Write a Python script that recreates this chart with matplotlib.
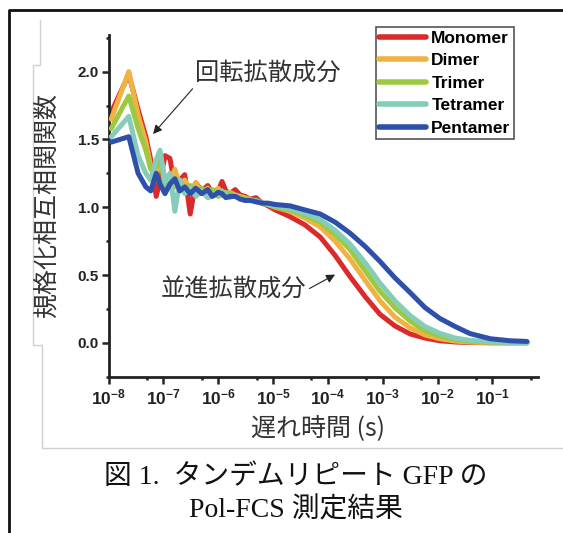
#!/usr/bin/env python3
"""Pol-FCS cross-correlation curves of tandem-repeat GFP (Fig. 1)."""

import numpy as np
import matplotlib
matplotlib.use('Agg')
import matplotlib.pyplot as plt
from matplotlib.lines import Line2D
from matplotlib.ticker import FixedLocator, FuncFormatter

plt.rcParams.update({
    'font.family': ['Liberation Sans', 'Noto Sans CJK JP'],
    'mathtext.fontset': 'custom',
    'mathtext.rm': 'Liberation Sans',
    'mathtext.bf': 'Liberation Sans:bold',
    'axes.linewidth': 2.0,
})

JP = ['Noto Sans CJK JP', 'DejaVu Sans']
CAPTION = ['Liberation Serif', 'Noto Sans CJK JP']

# lag time, as log10(seconds)
LAG_EXP = [-7.95, -7.63, -7.46, -7.32, -7.23, -7.13, -7.06, -6.97, -6.88, -6.79,
           -6.70, -6.61, -6.51, -6.41, -6.30, -6.19, -6.11, -6.06, -6.00, -5.93,
           -5.86, -5.79, -5.69, -5.60, -5.51, -5.42, -5.31, -5.20, -5.09, -4.96,
           -4.69, -4.42, -4.14, -3.87, -3.60, -3.32, -3.05, -2.78, -2.50, -2.23,
           -1.96, -1.68, -1.41, -1.04, -0.68, -0.37]

monomer = [1.70, 1.98, 1.72, 1.52, 1.35, 1.08, 1.20, 1.38, 1.36, 1.15,
           1.20, 1.24, 0.95, 1.18, 1.12, 1.16, 1.11, 1.10, 1.12, 1.19,
           1.12, 1.10, 1.13, 1.09, 1.08, 1.06, 1.07, 1.03, 1.01, 0.98,
           0.93, 0.87, 0.78, 0.645, 0.49, 0.34, 0.21, 0.125, 0.065, 0.035,
           0.015, 0.006, 0.002, 0.0, 0.0, 0.0]
dimer = [1.65, 2.00, 1.68, 1.48, 1.30, 1.22, 1.40, 1.20, 1.18, 1.28,
         1.16, 1.20, 1.12, 1.18, 1.10, 1.14, 1.10, 1.12, 1.14, 1.10,
         1.08, 1.11, 1.09, 1.08, 1.07, 1.06, 1.04, 1.03, 1.02, 1.00,
         0.97, 0.92, 0.855, 0.75, 0.62, 0.46, 0.31, 0.19, 0.11, 0.058,
         0.03, 0.013, 0.005, 0.001, 0.0, 0.0]
trimer = [1.58, 1.82, 1.58, 1.42, 1.28, 1.30, 1.38, 1.15, 1.22, 1.15,
          1.20, 1.13, 1.16, 1.10, 1.14, 1.09, 1.13, 1.12, 1.08, 1.09,
          1.11, 1.10, 1.08, 1.07, 1.06, 1.05, 1.05, 1.03, 1.02, 1.00,
          0.98, 0.94, 0.89, 0.80, 0.69, 0.53, 0.38, 0.26, 0.16, 0.09,
          0.05, 0.025, 0.012, 0.004, 0.001, 0.0]
tetramer = [1.52, 1.67, 1.38, 1.25, 1.20, 1.35, 1.42, 1.18, 1.25, 0.97,
            1.20, 1.10, 1.14, 1.08, 1.12, 1.07, 1.08, 1.10, 1.09, 1.12,
            1.09, 1.07, 1.09, 1.06, 1.05, 1.05, 1.05, 1.03, 1.02, 1.01,
            0.99, 0.955, 0.91, 0.83, 0.73, 0.59, 0.44, 0.31, 0.20, 0.12,
            0.07, 0.035, 0.018, 0.007, 0.003, 0.0]
pentamer = [1.48, 1.52, 1.25, 1.15, 1.12, 1.25, 1.17, 1.10, 1.17, 1.21,
            1.12, 1.15, 1.10, 1.14, 1.10, 1.13, 1.08, 1.09, 1.11, 1.10,
            1.07, 1.08, 1.08, 1.06, 1.05, 1.05, 1.04, 1.03, 1.03, 1.02,
            1.01, 0.98, 0.95, 0.89, 0.81, 0.71, 0.60, 0.48, 0.37, 0.26,
            0.18, 0.12, 0.068, 0.03, 0.015, 0.01]

SERIES = [
    ('Monomer', monomer, '#d92b2b'),
    ('Dimer', dimer, '#efb343'),
    ('Trimer', trimer, '#9dc83f'),
    ('Tetramer', tetramer, '#85cdb9'),
    ('Pentamer', pentamer, '#2e50ab'),
]

X_MAJOR_EXP = [-8, -7, -6, -5, -4, -3, -2, -1]
Y_MAJOR = [0.0, 0.5, 1.0, 1.5, 2.0]
Y_MINOR = [-0.25, 0.25, 0.75, 1.25, 1.75, 2.25]

W, H = 563, 533


def fx(px):
    return px / W


def fy(py):
    return 1 - py / H


def main():
    fig = plt.figure(figsize=(W / 100, H / 100), dpi=100)
    ax = fig.add_axes([fx(108.5), fy(376.7), fx(538) - fx(108.5), fy(35) - fy(376.7)])

    lag = 10.0 ** np.array(LAG_EXP)
    for i, (name, vals, color) in enumerate(SERIES):
        ax.plot(lag, vals, color=color, lw=3.6, label=name, zorder=2 + i,
                solid_joinstyle='round', solid_capstyle='round')

    ax.set_xscale('log')
    ax.set_xlim(1e-8, 0.677)
    ax.set_ylim(-0.25, 2.27)

    ax.xaxis.set_major_locator(FixedLocator([10.0 ** e for e in X_MAJOR_EXP]))
    ax.xaxis.set_minor_locator(FixedLocator([5 * 10.0 ** e for e in X_MAJOR_EXP]))
    ax.xaxis.set_major_formatter(FuncFormatter(
        lambda v, p: r'$\mathbf{10^{%d}}$' % round(np.log10(v))))
    ax.yaxis.set_major_locator(FixedLocator(Y_MAJOR))
    ax.yaxis.set_minor_locator(FixedLocator(Y_MINOR))
    ax.yaxis.set_major_formatter(FuncFormatter(lambda v, p: f'{v:.1f}'))

    ax.tick_params(which='major', length=5, width=1.8, labelsize=11,
                   colors='#222222', pad=2)
    ax.tick_params(axis='x', which='major', labelsize=12.5, pad=3)
    ax.tick_params(which='minor', length=2.5, width=1.8, colors='#222222')
    for lab in ax.get_yticklabels():
        lab.set_fontweight('bold')
    ax.spines['top'].set_visible(False)
    ax.spines['right'].set_visible(False)
    for s in ('left', 'bottom'):
        ax.spines[s].set_color('#222222')

    # legend box sits partly above the axes
    leg = ax.legend(loc='upper left', bbox_to_anchor=(fx(375.7), fy(27.3)),
                    bbox_transform=fig.transFigure, borderaxespad=0,
                    prop={'family': 'Liberation Sans', 'weight': 'bold', 'size': 12.5},
                    handlelength=2.7, handletextpad=0.3, labelspacing=0.42,
                    borderpad=0.2, fancybox=False, framealpha=1)
    leg.get_frame().set_edgecolor('#555555')
    leg.get_frame().set_linewidth(1.2)
    for line in leg.get_lines():
        line.set_linewidth(4)

    arrow = dict(arrowstyle='-|>', color='#222222', lw=0.8, mutation_scale=13,
                 shrinkA=0, shrinkB=0)
    ax.annotate('回転拡散成分', xy=(6.5e-8, 1.54), xycoords='data',
                xytext=(fx(195), fy(86)), textcoords='figure fraction',
                ha='left', va='bottom', fontsize=17.5, family=JP, color='#333333',
                arrowprops=dict(arrow, relpos=(0, 0)))
    ax.annotate('並進拡散成分', xy=(1.35e-4, 0.503), xycoords='data',
                xytext=(fx(306.7), fy(290)), textcoords='figure fraction',
                ha='right', va='center', fontsize=17.5, family=JP, color='#333333',
                arrowprops=dict(arrow, relpos=(1, 0.5)))

    fig.text(fx(46.5), fy(205), '規格化相互相関関数', rotation=90, ha='center',
             va='center', fontsize=18, family=JP, color='#333333')
    fig.text(fx(318), fy(428), '遅れ時間 (s)', ha='center', va='center',
             fontsize=18, family=JP, color='#333333')

    fig.text(fx(296), fy(476.7), '図 1.  タンデムリピート GFP の', ha='center',
             va='center', fontsize=20, family=CAPTION, color='#111111')
    fig.text(fx(296), fy(510), 'Pol-FCS 測定結果', ha='center', va='center',
             fontsize=20, family=CAPTION, color='#111111')

    # outline of the pasted chart image and the page frame
    gx = [39.5, 39.5, 32.5, 32.5, 42, 42, 563]
    gy = [20, 65, 65, 345, 345, 448, 448]
    fig.add_artist(Line2D([fx(v) for v in gx], [fy(v) for v in gy],
                          color='#d0d0d0', lw=1.0))
    fig.add_artist(Line2D([fx(9), fx(9), fx(563)], [fy(533), fy(10), fy(10)],
                          color='#111111', lw=2.0))

    fig.savefig('out.png', dpi=100)
    plt.close(fig)


if __name__ == '__main__':
    main()
